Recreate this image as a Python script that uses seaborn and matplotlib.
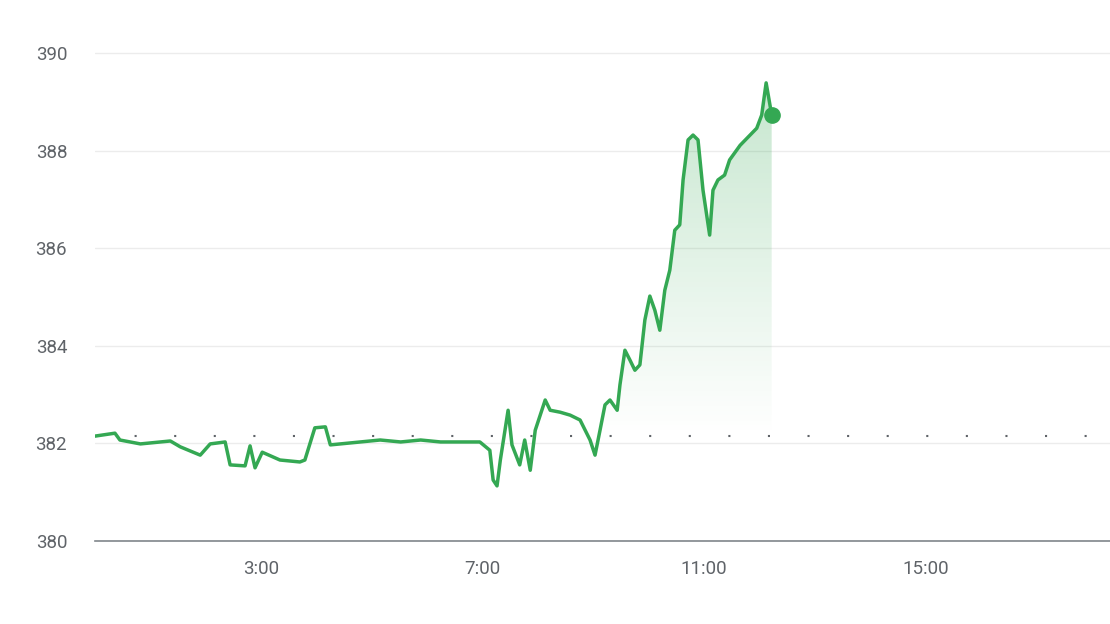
import matplotlib
matplotlib.use("Agg")
import matplotlib.pyplot as plt
import seaborn as sns
import numpy as np
import pandas as pd
from matplotlib.path import Path

hours = [0.0,0.36,0.45,0.82,1.36,1.54,1.90,2.08,2.35,2.44,2.71,2.80,2.89,3.02,3.34,3.70,3.79,3.97,4.16,4.25,
         4.79,5.15,5.52,5.88,6.24,6.95,7.13,7.19,7.26,7.32,7.46,7.53,7.67,7.76,7.86,7.95,8.13,8.22,8.40,8.58,
         8.76,8.94,9.03,9.12,9.21,9.30,9.43,9.48,9.57,9.66,9.75,9.84,9.93,10.02,10.11,10.20,10.29,10.38,10.47,10.56,
         10.62,10.71,10.80,10.89,10.98,11.10,11.16,11.25,11.37,11.46,11.65,11.83,11.95,12.04,12.12,12.19,12.22]
prices = [382.15,382.21,382.07,381.99,382.05,381.93,381.76,381.99,382.03,381.56,381.54,381.95,381.5,381.82,381.66,381.62,381.66,382.32,382.34,381.97,
          382.03,382.07,382.03,382.07,382.03,382.03,381.86,381.25,381.13,381.66,382.68,381.97,381.56,382.07,381.45,382.27,382.89,382.68,382.64,382.58,
          382.48,382.07,381.76,382.27,382.79,382.89,382.68,383.2,383.91,383.71,383.5,383.61,384.53,385.02,384.73,384.32,385.14,385.55,386.37,386.48,
          387.4,388.22,388.32,388.22,387.19,386.27,387.19,387.4,387.5,387.81,388.11,388.32,388.46,388.73,389.39,388.93,388.73]
prev_close = 382.15
xticks = [3, 7, 11, 15]
xticklabels = ["3:00", "7:00", "11:00", "15:00"]
yticks = [380, 382, 384, 386, 388, 390]

df = pd.DataFrame({"h": hours, "p": prices})
green = "#34a853"

sns.set_style("white")
plt.rcParams["font.family"] = ["Roboto", "DejaVu Sans"]
fig = plt.figure(figsize=(11.1, 6.24), dpi=100)
ax = fig.add_axes([0.0856, 0.133, 1 - 0.0856, 0.821])

x = np.array(hours); y = np.array(prices)
poly = ax.fill_between(x, y, prev_close, where=(y > prev_close) & (x >= 9.2), interpolate=True,
                       color="none", lw=0)
grad = np.linspace(0, 1, 256).reshape(-1, 1)
cmap = matplotlib.colors.LinearSegmentedColormap.from_list(
    "g", [(0.204, 0.659, 0.325, 0.0), (0.204, 0.659, 0.325, 0.28)])
im = ax.imshow(grad, extent=[0, 18.33, prev_close, 389.4], origin="lower", aspect="auto", cmap=cmap, zorder=1)
paths = poly.get_paths()
verts = np.concatenate([p.vertices for p in paths]); codes = np.concatenate([p.codes for p in paths])
im.set_clip_path(Path(verts, codes), transform=ax.transData)

sns.lineplot(data=df, x="h", y="p", ax=ax, color=green, lw=2.5, zorder=3)
ax.plot([hours[-1]], [prices[-1]], "o", color=green, ms=11, zorder=4)
ax.axhline(prev_close, color="#5f6368", lw=1.5, ls=(0, (1, 18)), zorder=2)

ax.set_xlim(0, 18.33)
ax.set_ylim(380, 390.5)
ax.set_yticks(yticks)
ax.set_xticks(xticks)
ax.set_xticklabels(xticklabels)
ax.grid(axis="y", color="#ececec", lw=1)
for s in ["left", "right", "top"]:
    ax.spines[s].set_visible(False)
ax.spines["bottom"].set_color("#80868b")
ax.spines["bottom"].set_linewidth(1.2)
ax.tick_params(axis="y", length=0, pad=20, labelsize=13.5, labelcolor="#5f6368")
ax.tick_params(axis="x", length=6, width=1.2, color="#5f6368", pad=8, labelsize=13.5, labelcolor="#5f6368")
ax.set_xlabel(""); ax.set_ylabel("")
fig.savefig("out.png", dpi=100)
